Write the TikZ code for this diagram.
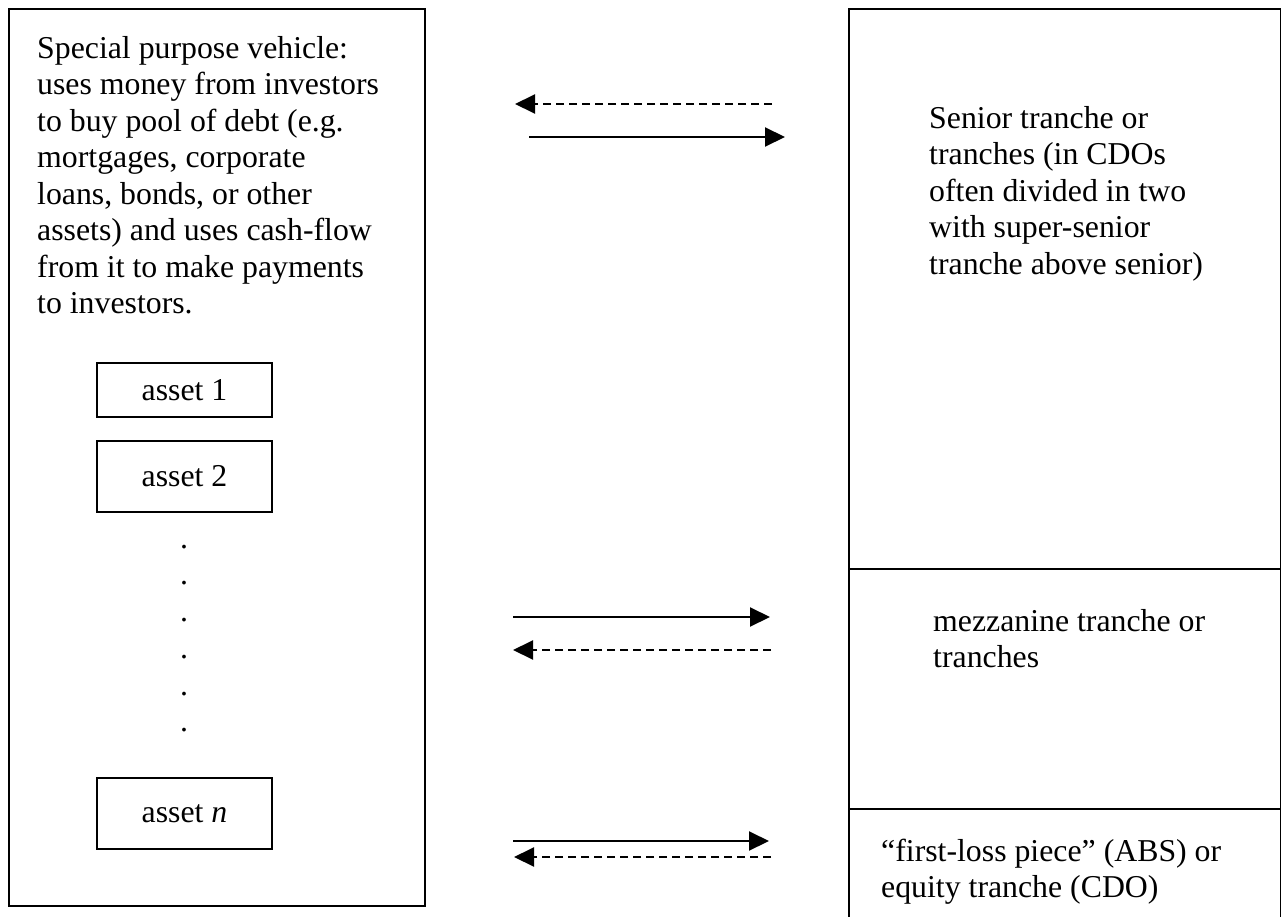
\documentclass[tikz,border=0pt]{standalone}
\usepackage{fontspec}
\setmainfont{Liberation Serif}
\usetikzlibrary{arrows.meta}
\begin{document}
\begin{tikzpicture}[x=1pt,y=-1pt,
  boxline/.style={line width=2pt},
  para/.style={anchor=north west,inner sep=0pt,align=left,font=\fontsize{31.8}{36.5}\selectfont},
  assetbox/.style={draw,line width=2pt,minimum width=175pt,inner sep=0pt,font=\fontsize{31.8}{36.5}\selectfont},
  dotmark/.style={anchor=base,inner sep=0pt,font=\fontsize{31.8}{36.5}\selectfont},
  flow/.style={line width=2pt,-{Triangle[length=20pt,width=19pt]}},
  backflow/.style={flow,dash pattern=on 8pt off 5pt}]
\useasboundingbox (0,0) rectangle (1281,917);
% left box (SPV)
\node[draw,line width=2pt,minimum width=416pt,minimum height=897pt,inner sep=0pt] (spv) at (217,457.5) {};
\node[para] (spvtext) at (37,32.45) {\strut Special purpose vehicle:\\uses money from investors\\to buy pool of debt (e.g.\\mortgages, corporate\\loans, bonds, or other\\assets) and uses cash-flow\\from it to make payments\\to investors.};
% assets
\node[assetbox,minimum height=54pt] (a1) at (184.5,390) {asset 1};
\node[assetbox,minimum height=71pt] (a2) at (184.5,476.5) {asset 2};
\node[assetbox,minimum height=71pt] (an) at (184.5,813.5) {asset \textit{n}};
\foreach \i/\yy in {1/548,2/584,3/621,4/658,5/695,6/731}
  \node[dotmark] (dot\i) at (184,\yy) {.};
% right box (tranches)
\draw[boxline] (849,925) -- (849,9) -- (1280.5,9) -- (1280.5,925);
\coordinate (d1l) at (849,569); \coordinate (d1r) at (1280.5,569);
\coordinate (d2l) at (849,809); \coordinate (d2r) at (1280.5,809);
\draw[boxline] (d1l) -- (d1r);
\draw[boxline] (d2l) -- (d2r);
\node[para] (senior) at (929,102.45) {\strut Senior tranche or\\tranches (in CDOs\\often divided in two\\with super-senior\\tranche above senior)};
\node[para] (mezz) at (933,605.45) {\strut mezzanine tranche or\\tranches};
\node[para] (equity) at (881,835.45) {\strut “first-loss piece” (ABS) or\\equity tranche (CDO)};
% arrows
\coordinate (s1a) at (772,104); \coordinate (s1b) at (515,104);
\coordinate (s2a) at (529,137); \coordinate (s2b) at (785,137);
\coordinate (m1a) at (513,617); \coordinate (m1b) at (770,617);
\coordinate (m2a) at (771,650); \coordinate (m2b) at (513,650);
\coordinate (e1a) at (513,841); \coordinate (e1b) at (769,841);
\coordinate (e2a) at (771,857); \coordinate (e2b) at (514,857);
\draw[backflow] (s1a) -- (s1b);
\draw[flow] (s2a) -- (s2b);
\draw[flow] (m1a) -- (m1b);
\draw[backflow] (m2a) -- (m2b);
\draw[flow] (e1a) -- (e1b);
\draw[backflow] (e2a) -- (e2b);
\end{tikzpicture}
\end{document}
